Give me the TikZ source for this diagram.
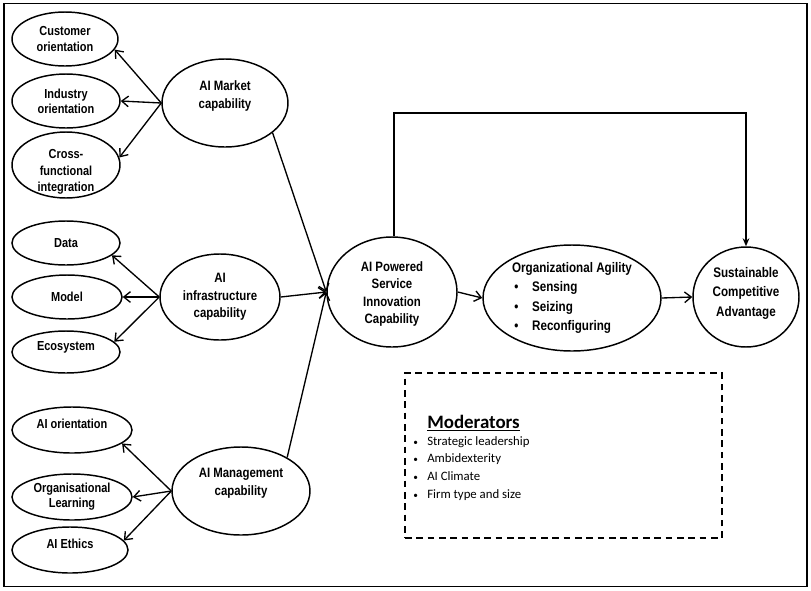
\documentclass[tikz,border=0pt]{standalone}
\usepackage{fontspec}
\setmainfont{Liberation Sans}
\newfontfamily\nbfont{Liberation Sans}[FakeStretch=0.84]
\newfontfamily\calfont{Carlito}
\usetikzlibrary{shapes.geometric,arrows.meta}
\newcommand\liftlbl[2]{\raisebox{#1}[0pt][0pt]{\begin{tabular}{@{}c@{}}#2\end{tabular}}}
\begin{document}
\begin{tikzpicture}[x=0.75pt,y=-0.75pt,
  ell/.style={draw,ellipse,line width=1.1pt,inner sep=0pt,align=center,
    font=\nbfont\bfseries\fontsize{9.8}{11.4}\selectfont},
  conn/.style={line width=1pt,-{Straight Barb[length=5pt,width=8pt]}},
  plain/.style={line width=1pt}]
\useasboundingbox (0,0) rectangle (811,590);
\node[draw,line width=1.1pt,minimum width=602.25pt,minimum height=437.25pt,inner sep=0pt] (frame) at (405.5,295) {};
% left column
\node[ell,minimum width=79.5pt,minimum height=40.5pt] (co) at (65,39) {Customer\\orientation};
\node[ell,minimum width=81pt,minimum height=40.5pt] (io) at (66,101) {Industry\\orientation};
\node[ell,minimum width=81pt,minimum height=49.5pt,font=\nbfont\bfseries\fontsize{9.8}{12.4}\selectfont] (cf) at (66,165) {\liftlbl{-7.75pt}{Cross-\\functional\\integration}};
\node[ell,minimum width=94.5pt,minimum height=66pt,font=\nbfont\bfseries\fontsize{10.2}{13}\selectfont] (amc) at (225,103) {\liftlbl{2.75pt}{AI Market\\capability}};
\node[ell,minimum width=81pt,minimum height=33pt] (da) at (66,243) {Data};
\node[ell,minimum width=82.5pt,minimum height=33pt] (mo) at (67,297) {Model};
\node[ell,minimum width=81pt,minimum height=31.5pt] (ec) at (66,352) {\liftlbl{1.25pt}{Ecosystem}};
\node[ell,minimum width=90pt,minimum height=64.5pt,font=\nbfont\bfseries\fontsize{10.2}{13.2}\selectfont] (aic) at (220,297) {AI\\infrastructure\\capability};
\node[ell,minimum width=90pt,minimum height=34.5pt] (ao) at (72,430) {\liftlbl{1.25pt}{AI orientation}};
\node[ell,minimum width=90pt,minimum height=34.5pt] (ol) at (72,497) {Organisational\\Learning};
\node[ell,minimum width=87pt,minimum height=34.5pt] (ae) at (70,550) {\liftlbl{1.25pt}{AI Ethics}};
\node[ell,minimum width=103.5pt,minimum height=66pt,font=\nbfont\bfseries\fontsize{10.2}{13.5}\selectfont] (amg) at (241,491) {\liftlbl{3.9pt}{AI Management\\capability}};
% right chain
\node[ell,minimum width=97.5pt,minimum height=82.5pt,font=\nbfont\bfseries\fontsize{10.2}{13}\selectfont] (aips) at (392,292) {\liftlbl{-4pt}{AI Powered\\Service\\Innovation\\Capability}};
\node[ell,minimum width=133.5pt,minimum height=79.5pt,align=left,
  font=\nbfont\bfseries\fontsize{10.4}{14.6}\selectfont] (oa) at (572,298)
  {Organizational Agility\\\makebox[15pt][l]{\,•}Sensing\\\makebox[15pt][l]{\,•}Seizing\\\makebox[15pt][l]{\,•}Reconfiguring};
\node[ell,minimum width=79.5pt,minimum height=75pt,font=\nbfont\bfseries\fontsize{10.4}{14.6}\selectfont] (sca) at (746,297) {\liftlbl{0.5pt}{Sustainable\\Competitive\\Advantage}};
% connectors
\draw[conn] (amc.west) -- (co.-12);
\draw[conn] (amc.west) -- (io.east);
\draw[conn] (amc.west) -- (cf.8);
\draw[conn] (aic.west) -- (da.-15);
\draw[conn] (aic.west) -- (mo.east);
\draw[conn] (aic.west) -- (ec.12);
\draw[conn] (amg.west) -- (ao.-15);
\draw[conn] (amg.west) -- (ol.east);
\draw[conn] (amg.west) -- (ae.10);
\draw[conn] (amc.-32) -- (aips.west);
\draw[conn] (aic.east) -- (aips.west);
\draw[conn] (amg.36) -- (aips.west);
\draw[conn] (aips.east) -- (oa.west);
\draw[conn] (oa.east) -- (sca.west);
\coordinate (c1) at (394,113);
\coordinate (c2) at (746,113);
\draw[line width=1pt,-{Stealth[length=6pt,width=5pt]}] (aips.north -| c1) -- (c1) -- (c2) -- (sca.north);
% moderators
\node[draw,line width=1.1pt,dash pattern=on 5pt off 3.5pt,minimum width=237.75pt,minimum height=123.75pt,inner sep=0pt] (mod) at (563.5,455.5) {};
\node[anchor=base west,inner sep=0pt,font=\calfont\bfseries\fontsize{14.2}{17}\selectfont] (mt) at (427,428) {\underline{Moderators}};
\node[anchor=north west,inner sep=0pt,align=left,font=\calfont\fontsize{9.6}{13.3}\selectfont] (ml) at (413,436)
 {\makebox[10.5pt][l]{\fontsize{7}{7}\selectfont•}Strategic leadership\\\makebox[10.5pt][l]{\fontsize{7}{7}\selectfont•}Ambidexterity\\\makebox[10.5pt][l]{\fontsize{7}{7}\selectfont•}AI Climate\\\makebox[10.5pt][l]{\fontsize{7}{7}\selectfont•}Firm type and size};
\end{tikzpicture}
\end{document}
